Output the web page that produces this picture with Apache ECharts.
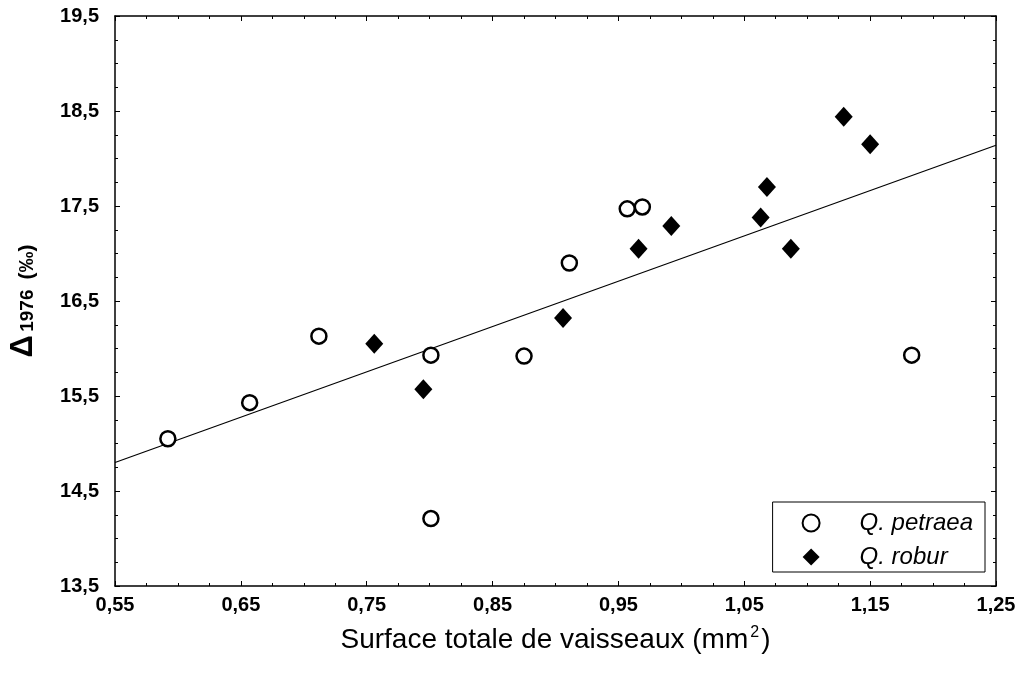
<!DOCTYPE html>
<html>
<head>
<meta charset="utf-8">
<script src="https://cdn.jsdelivr.net/npm/echarts@6/dist/echarts.min.js"></script>
<style>
	html, body { margin: 0; padding: 0; background: #fff; }
	#main { width: 1022px; height: 676px; }
</style>
</head>
<body>
<div id="main"></div>
<script>
	// données
	const petraea = [
		[0.592, 15.05], [0.657, 15.43], [0.712, 16.13], [0.801, 15.93],
		[0.801, 14.21], [0.875, 15.92], [0.911, 16.90], [0.957, 17.47],
		[0.969, 17.49], [1.183, 15.93]
	];
	const robur = [
		[0.756, 16.05], [0.795, 15.57], [0.906, 16.32], [0.966, 17.05],
		[0.992, 17.29], [1.063, 17.38], [1.068, 17.70], [1.087, 17.05],
		[1.129, 18.44], [1.150, 18.15]
	];
	// droite de régression (extrémités)
	const regLine = [[0.55, 14.80], [1.25, 18.14]];
	const xTicks = [0.55, 1.25, 0.1];  // min, max, pas
	const yTicks = [13.5, 19.5, 1];

	const font = "'Liberation Sans', Arial, sans-serif";
	const fmt = v => v.toFixed(2).replace('.', ',');
	const fmtY = v => v.toFixed(1).replace('.', ',');

	// axes communs (cadre avec graduations vers l'intérieur)
	function axisBase(extra) {
		return Object.assign({
			type: 'value',
			axisLine: { show: true, onZero: false, lineStyle: { color: '#000', width: 1.5 } },
			axisTick: { show: true, inside: true, length: 5, lineStyle: { color: '#000' } },
			minorTick: { show: true, splitNumber: 4, length: 3, lineStyle: { color: '#000' } },
			splitLine: { show: false }
		}, extra);
	}

	const chart = echarts.init(document.getElementById('main'));
	chart.setOption({
		animation: false,
		backgroundColor: '#fff',
		grid: { left: 110, right: 26, top: 16, bottom: 90 },
		xAxis: [
			axisBase({
				min: xTicks[0], max: xTicks[1], interval: xTicks[2],
				name: '{a|Surface totale de vaisseaux (mm}{sup|2}{a|)}',
				nameLocation: 'middle', nameGap: 39,
				nameTextStyle: {
					color: '#000', fontFamily: font, fontSize: 28,
					rich: {
						a: { fontSize: 28, fontFamily: font, color: '#000' },
						sup: { fontSize: 16, fontFamily: font, color: '#000', padding: [0, 2, 14, 2] }
					}
				},
				axisLabel: { color: '#000', fontFamily: font, fontWeight: 'bold', fontSize: 20, margin: 9, formatter: fmt }
			}),
			axisBase({
				position: 'top', min: xTicks[0], max: xTicks[1], interval: xTicks[2],
				axisLabel: { show: false }
			})
		],
		yAxis: [
			axisBase({
				min: yTicks[0], max: yTicks[1], interval: yTicks[2],
				name: '{d|Δ} {s|1976}   {p|(‰)}',
				nameLocation: 'middle', nameGap: 76, nameRotate: 90,
				nameTextStyle: {
					color: '#000', fontFamily: font, fontWeight: 'bold',
					rich: {
						d: { fontSize: 31, fontWeight: 'bold', fontFamily: font, color: '#000', verticalAlign: 'bottom' },
						s: { fontSize: 19, fontWeight: 'bold', fontFamily: font, color: '#000', verticalAlign: 'bottom', padding: [0, 0, 2, 0] },
						p: { fontSize: 21, fontWeight: 'bold', fontFamily: font, color: '#000', verticalAlign: 'bottom', padding: [0, 0, 1, 0] }
					}
				},
				axisLabel: { color: '#000', fontFamily: font, fontWeight: 'bold', fontSize: 20, margin: 16, formatter: fmtY }
			}),
			axisBase({
				position: 'right', min: yTicks[0], max: yTicks[1], interval: yTicks[2],
				axisLabel: { show: false }
			})
		],
		legend: {
			right: 37, bottom: 104,
			orient: 'vertical',
			data: ['Q. petraea', 'Q. robur'],
			backgroundColor: '#fff',
			borderColor: '#000', borderWidth: 1,
			padding: [9, 12, 3, 29],
			itemGap: 10, itemWidth: 17, itemHeight: 17,
			textStyle: { color: '#000', fontFamily: font, fontStyle: 'italic', fontSize: 24, padding: [0, 0, 0, 35] }
		},
		series: [
			{
				name: 'régression',
				type: 'line',
				data: regLine,
				symbol: 'none',
				lineStyle: { color: '#000', width: 1.2 },
				silent: true,
				z: 1
			},
			{
				name: 'Q. petraea',
				type: 'scatter',
				data: petraea,
				symbol: 'circle',
				symbolSize: 15,
				itemStyle: { color: '#fff', borderColor: '#000', borderWidth: 2.5, opacity: 1 },
				z: 3
			},
			{
				name: 'Q. robur',
				type: 'scatter',
				data: robur,
				symbol: 'diamond',
				symbolSize: [18, 20],
				itemStyle: { color: '#000', opacity: 1 },
				z: 3
			}
		]
	});
</script>
</body>
</html>
